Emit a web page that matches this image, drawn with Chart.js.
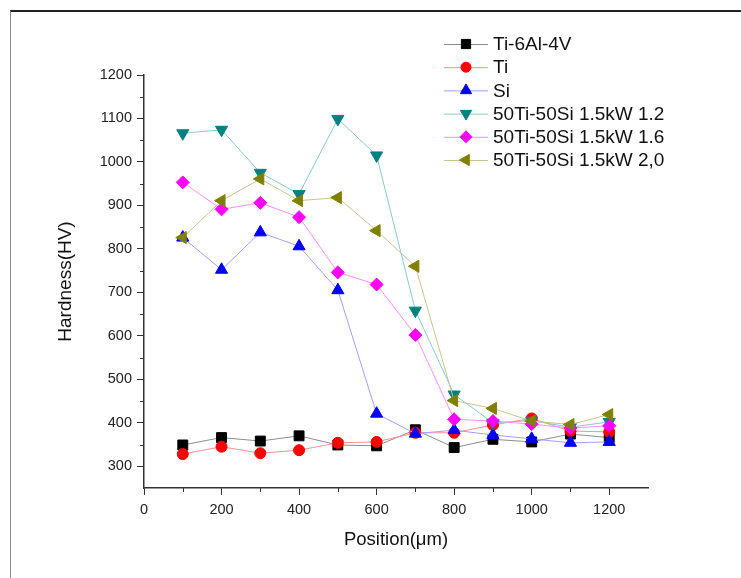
<!DOCTYPE html>
<html>
<head>
<meta charset="utf-8">
<script src="https://cdn.jsdelivr.net/npm/chart.js@4/dist/chart.umd.min.js"></script>
<style>
html, body { margin: 0; padding: 0; background: #fff; }
#wrap { position: relative; width: 741px; height: 578px; }
#frame { position: absolute; left: 10px; top: 10px; right: 0; bottom: 0; border-top: 2px solid #222; border-left: 1px solid #8a8a8a; pointer-events: none; }
canvas { position: absolute; left: 0; top: 0; }
</style>
</head>
<body>
<div id="wrap"><canvas id="hardness" width="741" height="578"></canvas><div id="frame"></div></div>
<script>
// measured positions (um)
var positions = [100, 200, 300, 400, 500, 600, 700, 800, 900, 1000, 1100, 1200];

var ti64 = [349, 366, 358, 370, 349, 347, 384, 343, 362, 356, 374, 366];
var ti = [328, 345, 330, 337, 354, 356, 377, 377, 395, 410, 381, 379];
var si = [826, 752, 838, 806, 705, 421, 375, 383, 372, 363, 354, 356];
var mix12 = [1066, 1074, 975, 926, 1099, 1015, 658, 465, 400, 405, 390, 402];
var mix16 = [953, 891, 906, 873, 746, 718, 602, 408, 404, 397, 388, 393];
var mix20 = [826, 911, 961, 911, 918, 842, 760, 451, 433, 404, 396, 419];

var seriesNames = ["Ti-6Al-4V", "Ti", "Si", "50Ti-50Si 1.5kW 1.2", "50Ti-50Si 1.5kW 1.6", "50Ti-50Si 1.5kW 2,0"];

var xTicks = [0, 200, 400, 600, 800, 1000, 1200];
var xMinor = [100, 300, 500, 700, 900, 1100];
var yTicks = [300, 400, 500, 600, 700, 800, 900, 1000, 1100, 1200];
var yMinor = [350, 450, 550, 650, 750, 850, 950, 1050, 1150];

var FONT = "'Liberation Sans', Arial, sans-serif";

function pts(vals) {
    return positions.map(function (p, i) { return {x: p, y: vals[i]}; });
}

function series(i, vals, marker, line, style, radius, rot) {
    return {
        label: seriesNames[i],
        data: pts(vals),
        borderColor: line,
        borderWidth: 1,
        backgroundColor: marker,
        pointBackgroundColor: marker,
        pointBorderColor: marker,
        pointBorderWidth: 1,
        pointStyle: style,
        pointRadius: radius,
        pointRotation: rot,
        tension: 0,
        order: -i
    };
}

var datasets = [
    series(0, ti64, '#000000', '#8c8c8c', 'rect', 7, 0),
    series(1, ti, '#ff0000', '#ff9090', 'circle', 5.5, 0),
    series(2, si, '#0000ff', '#a0a0ff', 'triangle', 7, 0),
    series(3, mix12, '#008080', '#88c8c8', 'triangle', 7, 180),
    series(4, mix16, '#ff00ff', '#ff90ff', 'rectRot', 6.5, 0),
    series(5, mix20, '#808000', '#c4c490', 'triangle', 7, 270)
];

var minorTicks = {
    id: 'minorTicks',
    afterDraw: function (chart) {
        var ctx = chart.ctx, xs = chart.scales.x, ys = chart.scales.y;
        ctx.save();
        ctx.strokeStyle = '#333';
        ctx.lineWidth = 1;
        xMinor.forEach(function (v) {
            var px = Math.round(xs.getPixelForValue(v)) + 0.5;
            ctx.beginPath(); ctx.moveTo(px, xs.top); ctx.lineTo(px, xs.top + 4); ctx.stroke();
        });
        yMinor.forEach(function (v) {
            var py = Math.round(ys.getPixelForValue(v)) + 0.5;
            ctx.beginPath(); ctx.moveTo(ys.right, py); ctx.lineTo(ys.right - 4, py); ctx.stroke();
        });
        ctx.restore();
    }
};

// Origin style legend: line through the marker, label to the right
var sideLegend = {
    id: 'sideLegend',
    afterDraw: function (chart) {
        var ctx = chart.ctx;
        var x0 = 444, x1 = 488, mx = 466, tx = 493, y0 = 44, dy = 23.2;
        ctx.save();
        chart.data.datasets.forEach(function (ds, i) {
            var y = y0 + i * dy;
            ctx.strokeStyle = ds.borderColor;
            ctx.lineWidth = 1;
            ctx.beginPath(); ctx.moveTo(x0, y + 0.5); ctx.lineTo(x1, y + 0.5); ctx.stroke();
            ctx.fillStyle = ds.pointBackgroundColor;
            ctx.strokeStyle = ds.pointBorderColor;
            Chart.helpers.drawPoint(ctx, {pointStyle: ds.pointStyle, radius: ds.pointRadius - 0.5, rotation: ds.pointRotation, borderWidth: 1}, mx, y);
            ctx.fillStyle = '#111';
            ctx.font = '19px ' + FONT;
            ctx.textBaseline = 'middle';
            ctx.fillText(ds.label, tx, y + 1);
        });
        ctx.restore();
    }
};

function plain(v) { return String(v); }

var myChart = new Chart(document.getElementById('hardness'), {
    type: 'line',
    data: { datasets: datasets },
    plugins: [minorTicks, sideLegend],
    options: {
        responsive: false,
        animation: false,
        devicePixelRatio: 1,
        layout: { padding: { left: 0, right: 93, top: 75, bottom: 0 } },
        plugins: {
            legend: { display: false },
            tooltip: { enabled: false }
        },
        scales: {
            x: {
                type: 'linear',
                min: 0,
                max: 1300,
                afterFit: function (s) { s.height = 90; },
                afterBuildTicks: function (s) { s.ticks = xTicks.map(function (v) { return {value: v}; }); },
                grid: { drawOnChartArea: false, tickLength: 7, tickColor: '#333', color: '#333' },
                border: { color: '#333', width: 1.5 },
                ticks: { autoSkip: false, maxRotation: 0, padding: 6, color: '#222', font: { family: FONT, size: 14.5 }, callback: plain },
                title: { display: true, text: 'Position(μm)', color: '#111', font: { family: FONT, size: 18.5 }, padding: { top: 0, bottom: 27 } }
            },
            y: {
                type: 'linear',
                min: 250,
                max: 1200,
                afterFit: function (s) { s.width = 144; },
                afterBuildTicks: function (s) { s.ticks = yTicks.map(function (v) { return {value: v}; }); },
                grid: { drawOnChartArea: false, tickLength: 7, tickColor: '#333', color: '#333' },
                border: { color: '#333', width: 1.5 },
                ticks: { autoSkip: false, padding: 5, color: '#222', font: { family: FONT, size: 14.5 }, callback: plain },
                title: { display: true, text: 'Hardness(HV)', color: '#111', font: { family: FONT, size: 19 }, padding: { top: 54, bottom: 0 } }
            }
        }
    }
});
</script>
</body>
</html>
